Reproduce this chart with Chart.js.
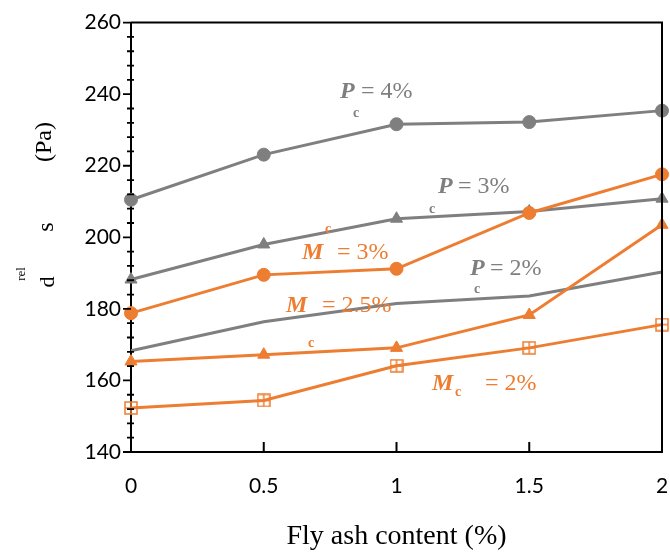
<!DOCTYPE html>
<html>
<head>
<meta charset="utf-8">
<script src="https://cdn.jsdelivr.net/npm/chart.js@4.4.1/dist/chart.umd.min.js"></script>
<style>
    html, body { margin: 0; padding: 0; background: #ffffff; }
    #wrap { width: 670px; height: 552px; }
</style>
</head>
<body>
<div id="wrap"><canvas id="stress_chart" width="670" height="552"></canvas></div>
<script>
// data
const flyAsh = [0, 0.5, 1, 1.5, 2]
const pc4 = [210.5, 223.1, 231.6, 232.2, 235.4]
const pc3 = [188.2, 198.0, 205.2, 207.2, 210.8]
const pc2 = [168.3, 176.4, 181.5, 183.6, 190.3]
const mc3 = [178.8, 189.5, 191.2, 206.8, 217.6]
const mc25 = [165.3, 167.2, 169.1, 178.3, 203.5]
const mc2 = [152.3, 154.4, 164.1, 169.1, 175.6]
const yTicks = [140, 160, 180, 200, 220, 240, 260]

const GRAY = "#7f7f7f"
const ORANGE = "#ed7d31"

function main() {
    new Chart(document.getElementById("stress_chart"), {
        type: "line",
        data: {
            datasets: [
                series(mc3, ORANGE, "circle", 6.5),
                series(mc25, ORANGE, "triangle", 7),
                series(mc2, ORANGE, squareMarker(ORANGE), 7),
                series(pc4, GRAY, "circle", 6.5),
                series(pc3, GRAY, "triangle", 7),
                series(pc2, GRAY, "circle", 0),
            ],
        },
        options: {
            responsive: false,
            animation: false,
            layout: {
                padding: { top: 20, right: 7, left: 0, bottom: 0 },
            },
            scales: {
                x: {
                    type: "linear",
                    min: 0,
                    max: 2,
                    afterFit: (s) => {
                        s.height = 100
                        s.paddingRight = 0
                        s.paddingLeft = 0
                    },
                    grid: { display: false, drawTicks: false },
                    border: { display: true, color: "#000", width: 2 },
                    ticks: {
                        stepSize: 0.5,
                        padding: 22,
                        color: "#000",
                        font: { family: "Lato", size: 21 },
                        maxRotation: 0,
                        callback: (v) => String(v),
                    },
                    title: {
                        display: true,
                        text: "Fly ash content (%)",
                        color: "#000",
                        font: { family: "Liberation Serif", size: 28, lineHeight: 1 },
                        padding: { top: 0, bottom: 1 },
                    },
                },
                y: {
                    min: yTicks[0],
                    max: yTicks[yTicks.length - 1],
                    afterFit: (s) => { s.width = 131 },
                    grid: { display: false, drawTicks: false },
                    border: { display: true, color: "#000", width: 2 },
                    ticks: {
                        stepSize: 20,
                        padding: 10,
                        color: "#000",
                        font: { family: "Lato", size: 21 },
                    },
                },
            },
            plugins: {
                legend: { display: false },
                tooltip: { enabled: false },
            },
        },
        plugins: [framePlugin],
    })
}

// functions
function series(values, color, style, radius) {
    return {
        data: flyAsh.map((x, i) => ({ x: x, y: values[i] })),
        borderColor: color,
        backgroundColor: color,
        borderWidth: 3,
        pointStyle: style,
        pointRadius: radius,
        pointBorderWidth: 1,
        pointBackgroundColor: typeof style === "string" ? color : "rgba(0,0,0,0)",
        tension: 0,
        fill: false,
        clip: false,
    }
}

function squareMarker(color) {
    const c = document.createElement("canvas")
    c.width = 14
    c.height = 14
    const g = c.getContext("2d")
    g.strokeStyle = color
    g.lineWidth = 1.5
    g.strokeRect(1, 1, 12, 12)
    g.beginPath()
    g.moveTo(7, 1)
    g.lineTo(7, 13)
    g.moveTo(1, 7)
    g.lineTo(13, 7)
    g.stroke()
    return c
}

function txt(ctx, s, x, y, font, color) {
    ctx.font = font
    ctx.fillStyle = color
    ctx.fillText(s, x, y)
}

const framePlugin = {
    id: "frame",
    afterDraw(chart) {
        const ctx = chart.ctx
        const a = chart.chartArea
        const xs = chart.scales.x
        const ys = chart.scales.y
        ctx.save()
        ctx.strokeStyle = "#000"
        ctx.lineWidth = 2
        ctx.beginPath()
        ctx.moveTo(a.left, a.top)
        ctx.lineTo(a.right, a.top)
        ctx.lineTo(a.right, a.bottom)
        ctx.stroke()

        // x ticks pointing inward
        ctx.beginPath()
        flyAsh.slice(1, -1).forEach((v) => {
            const px = xs.getPixelForValue(v)
            ctx.moveTo(px, a.bottom)
            ctx.lineTo(px, a.bottom - 10)
        })
        ctx.stroke()

        // y major and minor ticks
        ctx.lineWidth = 1.8
        ctx.beginPath()
        for (let v = ys.min; v <= ys.max; v += 4) {
            const py = ys.getPixelForValue(v)
            if (v % 20 === 0) {
                ctx.moveTo(a.left - 8, py)
                ctx.lineTo(a.left, py)
            } else {
                ctx.moveTo(a.left - 4, py)
                ctx.lineTo(a.left + 3, py)
            }
        }
        ctx.stroke()

        // curve labels
        ctx.textBaseline = "alphabetic"
        ctx.textAlign = "left"
        const big = "24px 'Liberation Serif'"
        const bigBI = "italic bold 24px 'Liberation Serif'"
        const sub = "bold 14px 'Liberation Serif'"

        txt(ctx, "P", 340, 98, bigBI, GRAY)
        txt(ctx, "= 4%", 361, 98, big, GRAY)
        txt(ctx, "c", 353, 117, sub, GRAY)

        txt(ctx, "P", 438, 193, bigBI, GRAY)
        txt(ctx, "= 3%", 458, 193, big, GRAY)
        txt(ctx, "c", 429, 213, sub, GRAY)

        txt(ctx, "P", 470, 275, bigBI, GRAY)
        txt(ctx, "= 2%", 490, 275, big, GRAY)
        txt(ctx, "c", 474, 293, sub, GRAY)

        txt(ctx, "M", 302, 259, bigBI, ORANGE)
        txt(ctx, "= 3%", 337, 259, big, ORANGE)
        txt(ctx, "c", 325, 233, sub, ORANGE)

        txt(ctx, "M", 286, 312, bigBI, ORANGE)
        txt(ctx, "= 2.5%", 322, 312, big, ORANGE)
        txt(ctx, "c", 308, 347, sub, ORANGE)

        txt(ctx, "M", 432, 390, bigBI, ORANGE)
        txt(ctx, "c", 455, 396, sub, ORANGE)
        txt(ctx, "= 2%", 485, 390, big, ORANGE)

        // y axis title, broken into pieces as in the figure
        ctx.fillStyle = "#000"
        ctx.textAlign = "center"
        const rot = (s, x, y, font) => {
            ctx.save()
            ctx.translate(x, y)
            ctx.rotate(-Math.PI / 2)
            ctx.font = font
            ctx.fillText(s, 0, 0)
            ctx.restore()
        }
        rot("(Pa)", 51, 142, big)
        rot("s", 53, 227, big)
        rot("d", 54, 282, "22px 'Liberation Serif'")
        rot("rel", 25, 274, "13px 'Liberation Serif'")
        ctx.restore()
    },
}

// listeners
document.addEventListener("DOMContentLoaded", main())
</script>
</body>
</html>
